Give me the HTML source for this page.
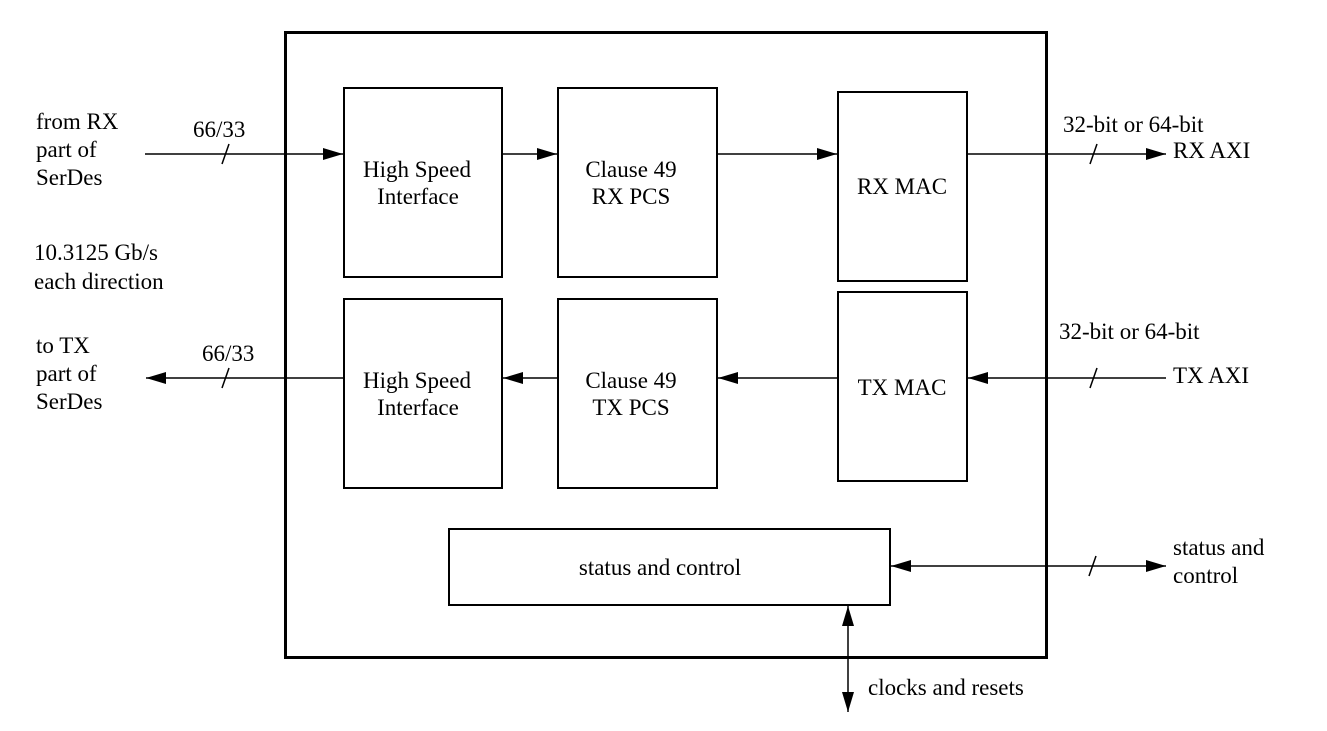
<!DOCTYPE html>
<html><head><meta charset="utf-8"><style>
html,body{margin:0;padding:0;background:#fff;}
svg{display:block;}
text{font-family:"Liberation Serif",serif;font-size:23px;fill:#000;}
</style></head><body>
<svg width="1327" height="731" viewBox="0 0 1327 731" xmlns="http://www.w3.org/2000/svg">
<defs>
<marker id="a" markerWidth="20" markerHeight="12" refX="20" refY="6" orient="auto" markerUnits="userSpaceOnUse">
<path d="M0,0 L20,6 L0,12 z" fill="#000"/></marker>
<marker id="s" markerWidth="20" markerHeight="12" refX="0" refY="6" orient="auto" markerUnits="userSpaceOnUse">
<path d="M20,0 L0,6 L20,12 z" fill="#000"/></marker>
</defs>
<g fill="none" stroke="#000">
<rect x="285.5" y="32.5" width="761" height="625" stroke-width="3"/>
<rect x="344" y="88" width="158" height="189" stroke-width="2"/>
<rect x="558" y="88" width="159" height="189" stroke-width="2"/>
<rect x="838" y="92" width="129" height="189" stroke-width="2"/>
<rect x="344" y="299" width="158" height="189" stroke-width="2"/>
<rect x="558" y="299" width="159" height="189" stroke-width="2"/>
<rect x="838" y="292" width="129" height="189" stroke-width="2"/>
<rect x="449" y="529" width="441" height="76" stroke-width="2"/>
<g stroke-width="1.5">
<line x1="145" y1="154" x2="343" y2="154" marker-end="url(#a)"/>
<line x1="502" y1="154" x2="557" y2="154" marker-end="url(#a)"/>
<line x1="717" y1="154" x2="837" y2="154" marker-end="url(#a)"/>
<line x1="967" y1="154" x2="1166" y2="154" marker-end="url(#a)"/>
<line x1="344" y1="378" x2="146" y2="378" marker-end="url(#a)"/>
<line x1="558" y1="378" x2="503" y2="378" marker-end="url(#a)"/>
<line x1="838" y1="378" x2="718" y2="378" marker-end="url(#a)"/>
<line x1="1166" y1="378" x2="968" y2="378" marker-end="url(#a)"/>
<line x1="891" y1="566" x2="1166" y2="566" marker-start="url(#s)" marker-end="url(#a)"/>
<line x1="848" y1="606" x2="848" y2="712" marker-start="url(#s)" marker-end="url(#a)"/>
<line x1="222" y1="164" x2="229" y2="144"/>
<line x1="222" y1="388" x2="229" y2="368"/>
<line x1="1090" y1="164" x2="1097" y2="144"/>
<line x1="1090" y1="388" x2="1097" y2="368"/>
<line x1="1089" y1="576" x2="1096" y2="556"/>
</g>
</g>
<text x="36" y="129">from RX</text>
<text x="36" y="157">part of</text>
<text x="36" y="185">SerDes</text>
<text x="193" y="137">66/33</text>
<text x="34" y="260">10.3125 Gb/s</text>
<text x="34" y="289">each direction</text>
<text x="36" y="353">to TX</text>
<text x="36" y="381">part of</text>
<text x="36" y="409">SerDes</text>
<text x="202" y="361">66/33</text>
<g text-anchor="middle">
<text x="417" y="177">High Speed</text>
<text x="418" y="204">Interface</text>
<text x="417" y="388">High Speed</text>
<text x="418" y="415">Interface</text>
<text x="631" y="177">Clause 49</text>
<text x="631" y="204">RX PCS</text>
<text x="631" y="388">Clause 49</text>
<text x="631" y="415">TX PCS</text>
<text x="902" y="194">RX MAC</text>
<text x="902" y="395">TX MAC</text>
<text x="660" y="575">status and control</text>
</g>
<text x="1063" y="132">32-bit or 64-bit</text>
<text x="1173" y="158">RX AXI</text>
<text x="1059" y="339">32-bit or 64-bit</text>
<text x="1173" y="383">TX AXI</text>
<text x="1173" y="555">status and</text>
<text x="1173" y="583">control</text>
<text x="868" y="695">clocks and resets</text>
</svg>
</body></html>
